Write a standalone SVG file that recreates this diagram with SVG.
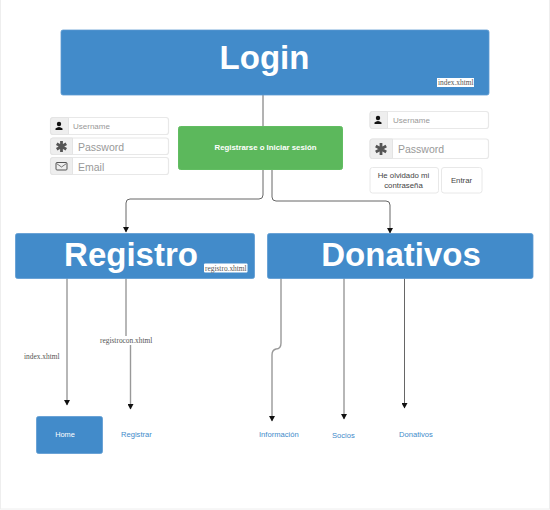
<svg xmlns="http://www.w3.org/2000/svg" width="550" height="510" viewBox="0 0 550 510">
<defs>
<marker id="arr" markerUnits="userSpaceOnUse" markerWidth="6" markerHeight="6" refX="5" refY="3" orient="auto"><path d="M0 0L5.500 3L0 6Z" fill="#111"/></marker>
</defs>
<style>
.hd{fill:#428bca;stroke:#5d9bd2;stroke-width:.8}
text{font-family:"Liberation Sans",Arial,sans-serif}
.t{fill:#fff;font-weight:700;text-anchor:middle}
.link{fill:#428bca;font-size:7.600px}
.file{font-family:"Liberation Serif","Times New Roman",serif;font-size:7.400px;fill:#555}
.in{fill:#fff;stroke:#e8e8e8;stroke-width:1.200}
.ad{fill:#eee;stroke:#e4e4e4;stroke-width:1}
.ph{fill:#999}
.c{fill:none;stroke:#666;stroke-width:1}
.cl{fill:none;stroke:#999;stroke-width:1.400}
.btn{fill:#fff;stroke:#e8e8e8;stroke-width:1}
.bt{font-size:7.800px;fill:#444;text-anchor:middle}
</style>
<rect x="0.500" y="-1" width="549" height="510" fill="#fff" stroke="#eee"/>
<g id="connectors">
<path class="c" d="M263 95V195Q263 199 259 199H130Q126 199 126 203V232" marker-end="url(#arr)"/>
<path class="c" d="M272 169V197Q272 201 276 201H386Q390 201 390 205V233" marker-end="url(#arr)"/>
<path class="cl" d="M67 278V405" marker-end="url(#arr)"/>
<path class="cl" d="M126 278V336"/>
<path class="cl" d="M130.500 345V409" marker-end="url(#arr)"/>
<path class="cl" d="M281 278V343Q281 349 276 349Q272 350 272 355V421" marker-end="url(#arr)"/>
<path class="cl" d="M344 278V419" marker-end="url(#arr)"/>
<path class="c" d="M404.500 278V408" marker-end="url(#arr)"/>
</g>
<g id="login"><rect class="hd" x="61" y="30" width="428" height="65" rx="2"/><text class="t" x="264.500" y="69" font-size="33">Login</text><rect x="437" y="78" width="37" height="9" fill="#fff"/><text class="file" x="438" y="85">index.xhtml</text></g>
<g id="form-left">
<rect class="in" x="50.500" y="117.500" width="118" height="17" rx="2.500"/><path class="ad" d="M53 117.500H68.500V134.500H53Q50.500 134.500 50.500 132V120Q50.500 117.500 53 117.500Z"/><circle cx="59" cy="124" r="2.200" fill="#111"/><path d="M55.500 130V128.500Q59 125.500 62.500 128.500V130Z" fill="#111"/><text x="73" y="129" font-size="8" class="ph">Username</text>
<rect class="in" x="50.500" y="138" width="118" height="16.500" rx="2.500"/><path class="ad" d="M53 138H72.500V154.500H53Q50.500 154.500 50.500 152V140.500Q50.500 138 53 138Z"/><path d="M61.500 141V152M56.700 143.700L66.300 149.300M66.300 143.700L56.700 149.300" stroke="#555" stroke-width="2.800"/><text x="78" y="151" font-size="10.500" class="ph">Password</text>
<rect class="in" x="50.500" y="157.500" width="118" height="17" rx="2.500"/><path class="ad" d="M53 157.500H72.500V174.500H53Q50.500 174.500 50.500 172V160Q50.500 157.500 53 157.500Z"/><rect x="56" y="162.500" width="11" height="7.500" rx="1" fill="none" stroke="#555"/><path d="M56.500 163.500L61.500 167L66.500 163.500" fill="none" stroke="#555" stroke-width=".8"/><text x="78" y="171" font-size="10.500" class="ph">Email</text>
</g>
<g id="action"><rect x="178.500" y="126.500" width="164" height="43" rx="2" fill="#5cb85c" stroke="#62bd62"/><text x="265.500" y="150" font-size="7.800" font-weight="700" fill="#fff" text-anchor="middle">Registrarse o Iniciar sesión</text></g>
<g id="form-right">
<rect class="in" x="370" y="111.500" width="118.500" height="17" rx="2.500"/><path class="ad" d="M372.500 111.500H387.500V128.500H372.500Q370 128.500 370 126V114Q370 111.500 372.500 111.500Z"/><circle cx="378" cy="118" r="2.200" fill="#111"/><path d="M374.500 124V122.500Q378 119.500 381.500 122.500V124Z" fill="#111"/><text x="393" y="123" font-size="8" class="ph">Username</text>
<rect class="in" x="370" y="139" width="118.500" height="19.500" rx="2.500"/><path class="ad" d="M372.500 139H392.500V158.500H372.500Q370 158.500 370 156V141.500Q370 139 372.500 139Z"/><path d="M381 143V155M375.800 146L386.200 152M386.200 146L375.800 152" stroke="#555" stroke-width="2.800"/><text x="398" y="152.500" font-size="10.500" class="ph">Password</text>
<rect class="btn" x="370" y="167.500" width="68.500" height="25.500" rx="2.500"/><text class="bt" x="403.500" y="178">He olvidado mi</text><text class="bt" x="403.500" y="188">contraseña</text>
<rect class="btn" x="441.500" y="167.500" width="40.500" height="25.500" rx="2.500"/><text class="bt" x="461.500" y="183">Entrar</text>
</g>
<g id="registro"><rect class="hd" x="15.500" y="233.500" width="239" height="45" rx="2"/><text class="t" x="131" y="266" font-size="33">Registro</text><rect x="204" y="263.500" width="43.500" height="9" rx="1" fill="#fff"/><text class="file" x="205" y="270.500">registro.xhtml</text></g>
<g id="donativos"><rect class="hd" x="267.500" y="233.500" width="265.500" height="45" rx="2"/><text class="t" x="401" y="266" font-size="33">Donativos</text></g>
<g id="label-index"><text class="file" x="24" y="359">index.xhtml</text></g>
<g id="label-registrocon"><text class="file" x="100" y="343">registrocon.xhtml</text></g>
<g id="home"><rect class="hd" x="36.500" y="416.500" width="66" height="37" rx="2"/><text x="65" y="437" font-size="7.400" fill="#fff" text-anchor="middle">Home</text></g>
<g id="registrar"><text class="link" x="121" y="437">Registrar</text></g>
<g id="informacion"><text class="link" x="259" y="437">Información</text></g>
<g id="socios"><text class="link" x="332" y="438">Socios</text></g>
<g id="donativos-link"><text class="link" x="399" y="437">Donativos</text></g>
</svg>
